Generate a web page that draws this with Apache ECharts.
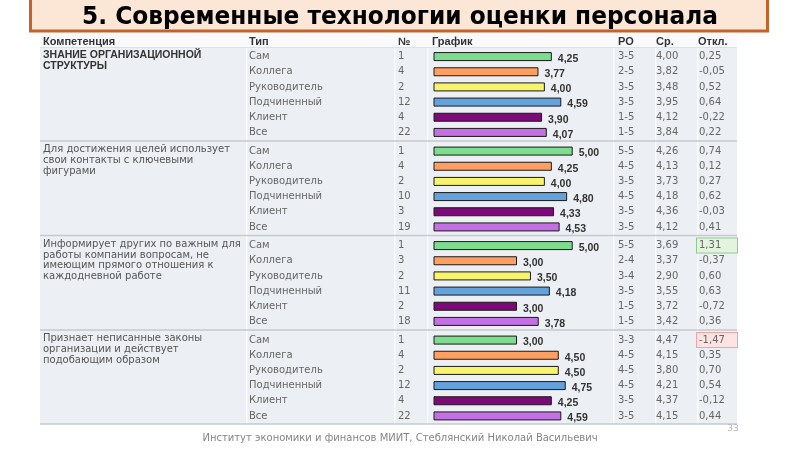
<!DOCTYPE html>
<html><head><meta charset="utf-8">
<script src="https://cdn.jsdelivr.net/npm/echarts@6/dist/echarts.min.js"></script>
<style>html,body{margin:0;padding:0;background:#fff}#c{width:800px;height:449px}</style>
</head><body><div id="c"></div>
<script>
// ---------- data ----------
const titleText = '5. Современные технологии оценки персонала';
const headers = ['Компетенция', 'Тип', '№', 'График', 'РО', 'Ср.', 'Откл.'];
const competencies = [
  'ЗНАНИЕ ОРГАНИЗАЦИОННОЙ\nСТРУКТУРЫ',
  'Для достижения целей использует\nсвои контакты с ключевыми\nфигурами',
  'Информирует других по важным для\nработы компании вопросам, не\nимеющим прямого отношения к\nкаждодневной работе',
  'Признает неписанные законы\nорганизации и действует\nподобающим образом'
];
const types = ['Сам', 'Коллега', 'Руководитель', 'Подчиненный', 'Клиент', 'Все'];
const counts = [
  ['1', '4', '2', '12', '4', '22'],
  ['1', '4', '2', '10', '3', '19'],
  ['1', '3', '2', '11', '2', '18'],
  ['1', '4', '2', '12', '4', '22']
];
const scores = [
  [4.25, 3.77, 4.00, 4.59, 3.90, 4.07],
  [5.00, 4.25, 4.00, 4.80, 4.33, 4.53],
  [5.00, 3.00, 3.50, 4.18, 3.00, 3.78],
  [3.00, 4.50, 4.50, 4.75, 4.25, 4.59]
];
const ranges = [
  ['3-5', '2-5', '3-5', '3-5', '1-5', '1-5'],
  ['5-5', '4-5', '3-5', '4-5', '3-5', '3-5'],
  ['5-5', '2-4', '3-4', '3-5', '1-5', '1-5'],
  ['3-3', '4-5', '4-5', '4-5', '3-5', '3-5']
];
const averages = [
  ['4,00', '3,82', '3,48', '3,95', '4,12', '3,84'],
  ['4,26', '4,13', '3,73', '4,18', '4,36', '4,12'],
  ['3,69', '3,37', '2,90', '3,55', '3,72', '3,42'],
  ['4,47', '4,15', '3,80', '4,21', '4,37', '4,15']
];
const deviations = [
  ['0,25', '-0,05', '0,52', '0,64', '-0,22', '0,22'],
  ['0,74', '0,12', '0,27', '0,62', '-0,03', '0,41'],
  ['1,31', '-0,37', '0,60', '0,63', '-0,72', '0,36'],
  ['-1,47', '0,35', '0,70', '0,54', '-0,12', '0,44']
];
const footerText = 'Институт экономики и финансов МИИТ, Стеблянский Николай Васильевич';
const pageNumber = '33';
const barColors = ['#7ddc8e', '#ff9f62', '#f7f36c', '#64a2dc', '#7c0a78', '#c270e2'];

// ---------- layout ----------
const GX = 433.5, GW = 139.2;          // bar plot left / width (0..5)
const GRIGHT = GX + GW;
const TL = 40, TR = 737;               // table left / right
const firstLine = 47.5, groupPitch = 94.5, groupH = 91;
const colSeps = [246, 394, 427, 613, 655, 697];
const headerX = [43, 249, 398, 432, 618, 656, 698];
const DF = 'DejaVu Sans';

const chart = echarts.init(document.getElementById('c'), null, {renderer: 'canvas'});

const grids = [], xAxes = [], yAxes = [], series = [];
const graphics = [];

// title
graphics.push({type: 'rect', shape: {x: 30.5, y: -5, width: 737, height: 36}, style: {fill: '#fce6d6', stroke: '#c4622a', lineWidth: 3}, z: 1});
graphics.push({type: 'text', x: 400, y: 17.5, scaleX: 0.97, originX: 0, originY: 0,
  style: {text: titleText, font: 'bold 24px "DejaVu Sans"', fill: '#000', textAlign: 'center', textVerticalAlign: 'middle'}, z: 2});

// table backgrounds
graphics.push({type: 'rect', shape: {x: TL, y: 35, width: TR - TL, height: firstLine - 35}, style: {fill: '#f8fafc'}, z: -10});
const tableBottom = firstLine + groupPitch * 4 - 1.5;
graphics.push({type: 'rect', shape: {x: TL, y: firstLine, width: TR - TL, height: tableBottom - firstLine}, style: {fill: '#eceff3'}, z: -10});
colSeps.forEach(x => graphics.push({type: 'rect', shape: {x: x, y: firstLine, width: 1.5, height: tableBottom - firstLine}, style: {fill: '#fafbfd'}, z: -9}));
for (let g = 1; g <= 4; g++) {
  const y = g < 4 ? firstLine + groupPitch * g - 1 : tableBottom;
  graphics.push({type: 'rect', shape: {x: TL, y: y - 0.75, width: TR - TL, height: 1.5}, style: {fill: '#c6cacf'}, z: -8});
}
graphics.push({type: 'rect', shape: {x: TL, y: firstLine - 0.5, width: TR - TL, height: 1}, style: {fill: '#dde1e6'}, z: -8});

// headers
headers.forEach((h, i) => graphics.push({type: 'text', x: headerX[i], y: 42, style: {text: h, font: 'bold 11px "Liberation Sans"', fill: '#333', textVerticalAlign: 'middle'}, z: 5}));

// footer
graphics.push({type: 'text', x: 400, y: 438, style: {text: footerText, font: '10px "DejaVu Sans"', fill: '#858585', textAlign: 'center', textVerticalAlign: 'middle'}, z: 5});
graphics.push({type: 'text', x: 733, y: 429, style: {text: pageNumber, font: '9px "DejaVu Sans"', fill: '#b5b5b5', textAlign: 'center', textVerticalAlign: 'middle'}, z: 5});

const baseLabel = {color: '#666', fontSize: 10, fontFamily: DF, interval: 0};
const hidden = {axisLine: {show: false}, axisTick: {show: false}, splitLine: {show: false}};

for (let g = 0; g < 4; g++) {
  const top = firstLine + groupPitch * g + 1.5;
  grids.push({left: GX, top: top, width: GW, height: groupH, containLabel: false});
  xAxes.push({type: 'value', gridIndex: g, min: 0, max: 5, show: false});
  const yi = yAxes.length;
  // Тип
  yAxes.push(Object.assign({type: 'category', gridIndex: g, inverse: true, position: 'left', data: types,
    axisLabel: Object.assign({}, baseLabel, {align: 'left', margin: GX - headerX[1]})}, hidden));
  // №
  yAxes.push(Object.assign({type: 'category', gridIndex: g, inverse: true, position: 'left', data: counts[g],
    axisLabel: Object.assign({}, baseLabel, {align: 'left', margin: GX - headerX[2]})}, hidden));
  // РО
  yAxes.push(Object.assign({type: 'category', gridIndex: g, inverse: true, position: 'right', data: ranges[g],
    axisLabel: Object.assign({}, baseLabel, {align: 'left', margin: headerX[4] - GRIGHT})}, hidden));
  // Ср.
  yAxes.push(Object.assign({type: 'category', gridIndex: g, inverse: true, position: 'right', data: averages[g],
    axisLabel: Object.assign({}, baseLabel, {align: 'left', margin: headerX[5] - GRIGHT})}, hidden));
  // Откл.
  yAxes.push(Object.assign({type: 'category', gridIndex: g, inverse: true, position: 'right', data: deviations[g],
    axisLabel: Object.assign({}, baseLabel, {align: 'left', margin: 697 - GRIGHT,
      formatter: v => {
        const d = parseFloat(v.replace(',', '.'));
        return (d > 1 ? '{hi|' : d < -1 ? '{lo|' : '{n|') + v + '}';
      },
      rich: {
        n: {color: '#666', fontSize: 10, fontFamily: DF, padding: [1, 2, 1, 2]},
        hi: {color: '#666', fontSize: 10, fontFamily: DF, padding: [1, 2, 1, 2], width: 36, height: 12,
          backgroundColor: '#e3f3df', borderColor: '#90cc8c', borderWidth: 1},
        lo: {color: '#666', fontSize: 10, fontFamily: DF, padding: [1, 2, 1, 2], width: 36, height: 12,
          backgroundColor: '#fde3e1', borderColor: '#eea6a4', borderWidth: 1}
      }})}, hidden));

  series.push({
    type: 'bar', xAxisIndex: g, yAxisIndex: yi, barWidth: 9,
    data: scores[g].map((v, i) => ({value: v, itemStyle: {color: barColors[i]}})),
    itemStyle: {borderColor: '#1a1a1a', borderWidth: 1},
    label: {show: true, position: 'right', distance: 6, offset: [0, 2.5],
      formatter: p => p.value.toFixed(2).replace('.', ','),
      fontFamily: 'Liberation Sans', fontWeight: 'bold', fontSize: 10.5, color: '#333'},
    animation: false, silent: true
  });

  // competency text
  graphics.push({type: 'text', x: 43, y: top + 1, style: {
    text: competencies[g],
    font: g === 0 ? 'bold 10.5px "Liberation Sans"' : '10px "DejaVu Sans"',
    fill: g === 0 ? '#333' : '#555', lineHeight: 10.7, textVerticalAlign: 'top'}, z: 5});
}

chart.setOption({
  animation: false,
  backgroundColor: '#fff',
  grid: grids, xAxis: xAxes, yAxis: yAxes, series: series,
  graphic: {elements: graphics}
});
</script>
</body></html>
